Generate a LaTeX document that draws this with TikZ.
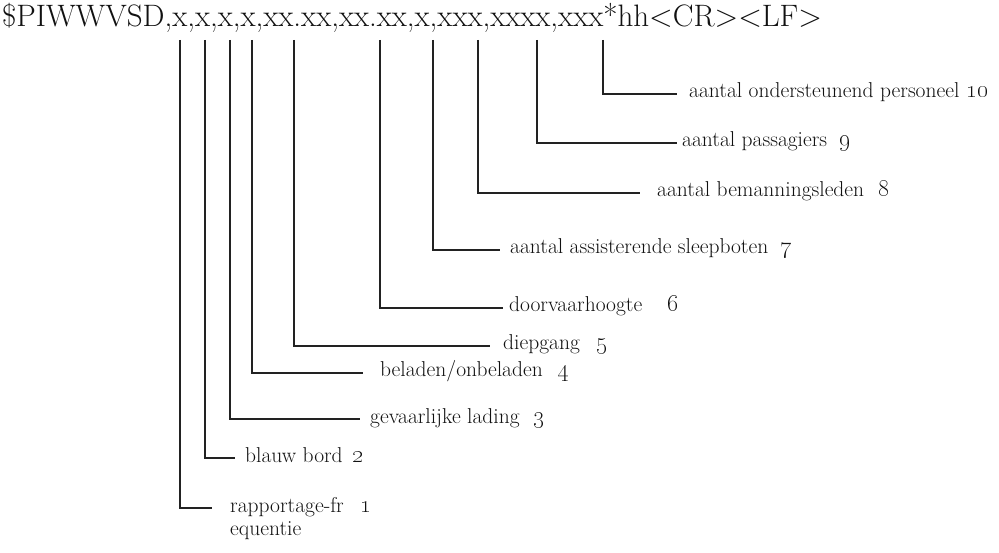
\documentclass[tikz,border=0pt]{standalone}
\usepackage{tikz}
\usetikzlibrary{positioning}
\usepackage{xcolor}
\definecolor{inkdark}{HTML}{111111}
\definecolor{leadgray}{HTML}{222222}
\newcommand\fieldnum[1]{{\fontencoding{TS1}\selectfont #1}}

\begin{document}
\begin{tikzpicture}[
  x=1pt, y=-1pt,
  header/.style={
    anchor=base west,
    inner sep=0pt,
    text=inkdark,
    font=\fontsize{31}{36}\selectfont
  },
  tag/.style={
    anchor=west,
    inner ysep=0pt,
    text height=13pt,
    text depth=5pt,
    text=inkdark,
    font=\fontsize{21.5}{25}\selectfont
  },
  num/.style={
    tag,
    inner xsep=0pt,
    font=\fontsize{25}{29}\selectfont
  },
  lead/.style={
    draw=leadgray,
    line width=1.1pt
  }
]
  \useasboundingbox (0,0) rectangle (999,553);

  % Sentence format
  \node[header] (sentence) at (2,27) {\$PIWWVSD,x,x,x,x,xx.xx,xx.xx,x,xxx,xxxx,xxx*hh\textless CR\textgreater\textless LF\textgreater};

  % Field positions below the sentence
  \coordinate (f1) at (180,40);
  \coordinate (f2) at (205,40);
  \coordinate (f3) at (230,40);
  \coordinate (f4) at (252,40);
  \coordinate (f5) at (294,40);
  \coordinate (f6) at (380,40);
  \coordinate (f7) at (433,40);
  \coordinate (f8) at (478,40);
  \coordinate (f9) at (537,40);
  \coordinate (f10) at (603,40);

  % Field descriptions
  \node[tag, inner xsep=18pt] (t1) at (212,508) {rapportage-fr};
  \node[tag, inner xsep=0pt, below=5pt of t1.south west, anchor=north west, xshift=18pt] (t1b) {equentie};
  \node[tag, inner xsep=10pt] (t2) at (235,458) {blauw bord};
  \node[tag, inner xsep=10pt] (t3) at (360,419) {gevaarlijke lading};
  \node[tag, inner xsep=17pt] (t4) at (363,373) {beladen/onbeladen};
  \node[tag, inner xsep=13pt] (t5) at (490,346) {diepgang};
  \node[tag, inner xsep=6pt] (t6) at (503,308) {doorvaarhoogte};
  \node[tag, inner xsep=10pt] (t7) at (500,250) {aantal assisterende sleepboten};
  \node[tag, inner xsep=17pt] (t8) at (640,193) {aantal bemanningsleden};
  \node[tag, inner xsep=5pt] (t9) at (677,143) {aantal passagiers};
  \node[tag, inner xsep=12pt] (t10) at (677,94) {aantal ondersteunend personeel};

  % Field numbers
  \node[num] (n1) at (360,508) {\fieldnum{1}};
  \node[num] (n2) at (352,458) {\fieldnum{2}};
  \node[num] (n3) at (533,419) {\fieldnum{3}};
  \node[num] (n4) at (557,373) {\fieldnum{4}};
  \node[num] (n5) at (596,346) {\fieldnum{5}};
  \node[num] (n6) at (667,308) {\fieldnum{6}};
  \node[num] (n7) at (780,250) {\fieldnum{7}};
  \node[num] (n8) at (878,193) {\fieldnum{8}};
  \node[num] (n9) at (839,143) {\fieldnum{9}};
  \node[num] (n10) at (966,94) {\fieldnum{10}};

  % Leader lines
  \draw[lead] (f1) |- (t1.west);
  \draw[lead] (f2) |- (t2.west);
  \draw[lead] (f3) |- (t3.west);
  \draw[lead] (f4) |- (t4.west);
  \draw[lead] (f5) |- (t5.west);
  \draw[lead] (f6) |- (t6.west);
  \draw[lead] (f7) |- (t7.west);
  \draw[lead] (f8) |- (t8.west);
  \draw[lead] (f9) |- (t9.west);
  \draw[lead] (f10) |- (t10.west);

\end{tikzpicture}
\end{document}
